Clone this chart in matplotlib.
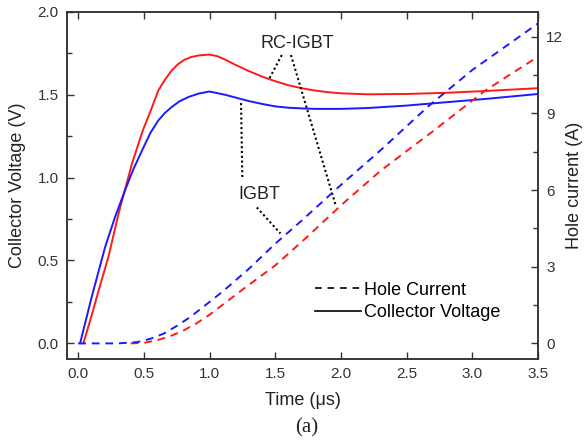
import numpy as np
import matplotlib.pyplot as plt
from matplotlib.lines import Line2D

plt.rcParams['font.family'] = ['Liberation Sans', 'DejaVu Sans']

# collector voltage (V) vs time (us)
t_v_igbt = [0.015, 0.1, 0.205, 0.28, 0.36, 0.42, 0.49, 0.55, 0.61, 0.66, 0.71, 0.77,
            0.84, 0.92, 1.0, 1.06, 1.12, 1.2, 1.3, 1.4, 1.5, 1.6, 1.7, 1.8, 2.0,
            2.2, 2.5, 2.8, 3.1, 3.5]
v_igbt = [0.0, 0.27, 0.58, 0.76, 0.93, 1.05, 1.17, 1.27, 1.345, 1.39, 1.425, 1.46,
          1.487, 1.508, 1.52, 1.51, 1.5, 1.483, 1.462, 1.445, 1.43, 1.422, 1.418,
          1.415, 1.415, 1.42, 1.435, 1.455, 1.475, 1.505]
t_v_rc = [0.04, 0.1, 0.16, 0.23, 0.31, 0.41, 0.49, 0.56, 0.61, 0.66, 0.71, 0.76,
          0.81, 0.86, 0.92, 1.0, 1.06, 1.12, 1.2, 1.3, 1.4, 1.5, 1.6, 1.7, 1.8,
          1.9, 2.0, 2.2, 2.5, 2.8, 3.1, 3.5]
v_rc = [0.0, 0.16, 0.33, 0.52, 0.79, 1.085, 1.28, 1.42, 1.526, 1.59, 1.645, 1.685,
        1.712, 1.728, 1.738, 1.743, 1.733, 1.712, 1.68, 1.643, 1.61, 1.582, 1.558,
        1.54, 1.526, 1.516, 1.509, 1.503, 1.505, 1.512, 1.523, 1.54]

# hole current (A) vs time (us)
t_i_igbt = [0.0, 0.3, 0.45, 0.55, 0.65, 0.75, 0.85, 0.95, 1.1, 1.3, 1.5, 1.7,
            2.0, 2.3, 2.67, 3.0, 3.5]
i_igbt = [0.0, 0.0, 0.05, 0.18, 0.38, 0.68, 1.02, 1.42, 2.03, 2.92, 3.9, 4.8,
          6.2, 7.55, 9.3, 10.7, 12.52]
t_i_rc = [0.4, 0.5, 0.6, 0.7, 0.8, 0.9, 1.0, 1.25, 1.5, 1.75, 2.0, 2.3, 2.7, 3.1, 3.5]
i_rc = [0.0, 0.02, 0.12, 0.28, 0.5, 0.78, 1.12, 2.1, 3.05, 4.2, 5.4, 6.75, 8.3, 9.9, 11.22]

red = '#ff1a1a'
blue = '#1a1aff'
grey = '#333333'

fig = plt.figure(figsize=(5.86, 4.41), dpi=100)
ax = fig.add_axes([0.1143, 0.186, 0.918 - 0.1143, 0.9728 - 0.186])
ax2 = ax.twinx()

ax.plot(t_v_rc, v_rc, color=red, lw=1.4)
ax.plot(t_v_igbt, v_igbt, color=blue, lw=1.4)
ax2.plot(t_i_rc, i_rc, color=red, lw=1.4, dashes=(4, 3))
ax2.plot(t_i_igbt, i_igbt, color=blue, lw=1.4, dashes=(4, 3))

ax.set_xlim(-0.085, 3.5)
ax.set_ylim(-0.095, 2.0)
ax2.set_ylim(-0.61, 12.97)

ax.set_xticks(np.arange(0, 3.51, 0.5))
ax.set_xticklabels(['0.0', '0.5', '1.0', '1.5', '2.0', '2.5', '3.0', '3.5'])
ax.set_yticks(np.arange(0, 2.01, 0.5))
ax.set_yticklabels(['0.0', '0.5', '1.0', '1.5', '2.0'])
ax.set_yticks(np.arange(0.25, 2.0, 0.5), minor=True)
ax2.set_yticks([0, 3, 6, 9, 12])
ax2.set_yticks([1.5, 4.5, 7.5, 10.5], minor=True)

for a in (ax, ax2):
    a.tick_params(which='both', direction='in', colors=grey, labelsize=11, pad=6)
    a.tick_params(which='major', length=5, width=1)
    a.tick_params(which='minor', length=3.5, width=1)
    for s in a.spines.values():
        s.set_color(grey)
        s.set_linewidth(1.1)
ax.tick_params(axis='x', top=True)
ax.tick_params(axis='y', left=True, right=False)
ax2.tick_params(axis='y', left=False, right=True)

ax.set_xlabel('Time (\u03bcs)', fontsize=13, color='#222222', labelpad=8)
ax.set_ylabel('Collector Voltage (V)', fontsize=13, color='#222222', labelpad=8)
ax2.set_ylabel('Hole current (A)', fontsize=13, color='#222222', labelpad=2)

# annotations with dotted leader lines (data coords of left axis)
ax.text(1.67, 1.81, 'RC-IGBT', fontsize=13, ha='center', va='center', color='#222222')
ax.text(1.38, 0.9, 'IGBT', fontsize=13, ha='center', va='center', color='#222222')

v_per_a = 2.095 / 13.58
v0 = -0.095 + 0.61 * v_per_a
dot = dict(color='black', lw=1.5, ls=(0, (1, 1.3)))
ax.plot([1.55, 1.45], [1.74, 1.59], **dot)
ax.plot([1.62, 1.96], [1.74, 5.41 * v_per_a + v0], **dot)
ax.plot([1.24, 1.25], [1.45, 0.99], **dot)
ax.plot([1.36, 1.54], [0.82, 4.3 * v_per_a + v0], **dot)

handles = [Line2D([], [], color='black', lw=1.2, dashes=(4, 3.5)),
           Line2D([], [], color='black', lw=1.2)]
ax.legend(handles, ['Hole Current', 'Collector Voltage'], loc='lower right',
          bbox_to_anchor=(0.955, 0.062), frameon=False, fontsize=13,
          handlelength=2.5, handletextpad=0.2, labelspacing=0.3)

fig.text(0.524, 0.03, '(a)', fontsize=15, family=['Liberation Serif', 'DejaVu Serif'],
         ha='center', va='center', color='#222222')

fig.savefig('out.png', dpi=100)
